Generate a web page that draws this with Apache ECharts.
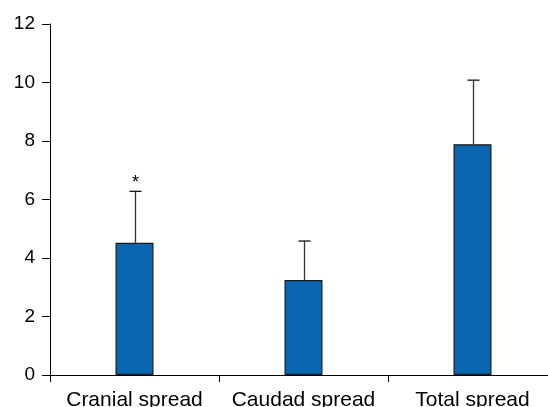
<!DOCTYPE html>
<html><head><meta charset="utf-8">
<script src="https://cdn.jsdelivr.net/npm/echarts@6/dist/echarts.min.js"></script>
<style>html,body{margin:0;padding:0;background:#fff}#c{width:548px;height:407px}</style>
</head><body><div id="c"></div>
<script>
var categories = ['Cranial spread', 'Caudad spread', 'Total spread'];
var means = [4.52, 3.25, 7.89];
var upper = [6.28, 4.58, 10.08];
var marks = ['*', '', ''];
var yTicks = [0, 2, 4, 6, 8, 10, 12];

var FONT = 'Liberation Sans, Arial, sans-serif';
var chart = echarts.init(document.getElementById('c'));
chart.setOption({
  animation: false,
  grid: { left: 50, top: 24, width: 507, height: 351, containLabel: false, outerBoundsMode: 'none' },
  xAxis: {
    type: 'category', data: categories,
    axisLine: { lineStyle: { color: '#000', width: 1 } },
    axisTick: { show: true, length: 7, inside: false, lineStyle: { color: '#000' } },
    axisLabel: { color: '#000', fontSize: 21, fontFamily: FONT, margin: 15, interval: 0 }
  },
  yAxis: {
    type: 'value', min: yTicks[0], max: yTicks[yTicks.length - 1], interval: 2,
    axisLine: { show: true, lineStyle: { color: '#000', width: 1 } },
    axisTick: { show: true, length: 8, lineStyle: { color: '#000' } },
    splitLine: { show: false },
    axisLabel: { color: '#000', fontSize: 19, fontFamily: FONT, margin: 15 }
  },
  series: [
    {
      type: 'bar', data: means, barWidth: 38,
      itemStyle: { color: '#0b66b2', borderColor: '#1a1a1a', borderWidth: 1.2 },
      z: 2
    },
    {
      type: 'custom', z: 3,
      data: means.map(function (m, i) { return [i, m, upper[i]]; }),
      renderItem: function (params, api) {
        var base = api.coord([api.value(0), api.value(1)]);
        var top = api.coord([api.value(0), api.value(2)]);
        var x = Math.round(base[0]) + 0.5;
        var children = [
          { type: 'line', shape: { x1: x, y1: base[1], x2: x, y2: top[1] }, style: { stroke: '#333', lineWidth: 1.3 } },
          { type: 'line', shape: { x1: x - 6, y1: top[1], x2: x + 6, y2: top[1] }, style: { stroke: '#111', lineWidth: 1.3 } }
        ];
        var t = marks[params.dataIndex];
        if (t) {
          children.push({ type: 'text', style: { text: t, x: x, y: top[1] + 1, textAlign: 'center', textVerticalAlign: 'bottom', fill: '#000', fontSize: 18, fontFamily: FONT } });
        }
        return { type: 'group', children: children };
      }
    }
  ]
});
</script></body></html>
